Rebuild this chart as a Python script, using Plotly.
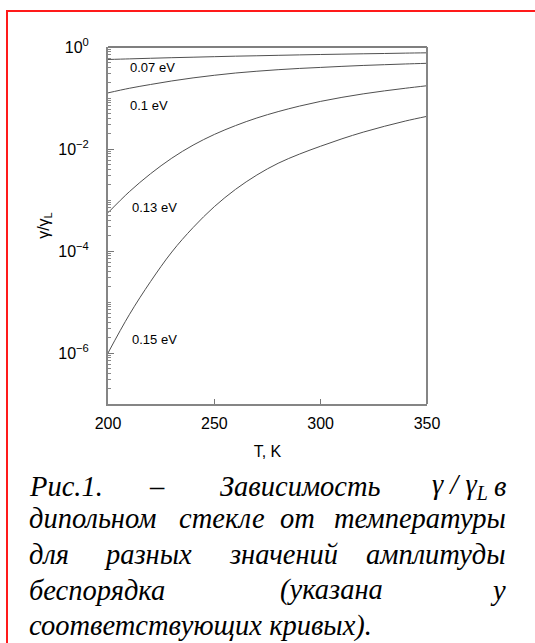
import plotly.graph_objects as go

# ---------------- data ----------------
T = [200, 210, 220, 230, 240, 250, 260, 270, 280, 290, 300, 310, 320, 330, 340, 350]

g_007 = [0.569, 0.585, 0.601, 0.617, 0.631, 0.646, 0.661, 0.673, 0.687, 0.700,
         0.713, 0.724, 0.736, 0.746, 0.759, 0.769]
g_010 = [0.126, 0.155, 0.184, 0.216, 0.248, 0.279, 0.309, 0.335, 0.359, 0.380,
         0.398, 0.417, 0.435, 0.450, 0.465, 0.479]
g_013 = [5.62e-4, 1.45e-3, 3.27e-3, 6.61e-3, 1.19e-2, 1.93e-2, 2.88e-2, 4.06e-2,
         5.41e-2, 6.93e-2, 8.59e-2, 0.103, 0.1205, 0.138, 0.1556, 0.174]
g_015 = [1.0e-6, 5.62e-6, 2.51e-5, 9.55e-5, 2.88e-4, 7.41e-4, 1.62e-3, 3.09e-3,
         5.25e-3, 7.94e-3, 1.135e-2, 1.585e-2, 2.14e-2, 2.79e-2, 3.55e-2, 4.37e-2]

series = [g_007, g_010, g_013, g_015]
curve_labels = ["0.07 eV", "0.1 eV", "0.13 eV", "0.15 eV"]

x_ticks = [200, 250, 300, 350]
x_ticktext = ["200", "250", "300", "350"]
y_ticks = [1, 1e-2, 1e-4, 1e-6]
y_ticktext = ["10<sup>0</sup>", "10<sup>\u22122</sup>", "10<sup>\u22124</sup>", "10<sup>\u22126</sup>"]

x_title = "T, K"
y_title = "\u03b3/\u03b3<sub>L</sub>"

caption_lines = [
    ["\u0420\u0438\u0441.1.", "\u2013", "\u0417\u0430\u0432\u0438\u0441\u0438\u043c\u043e\u0441\u0442\u044c", "\u03b3 / \u03b3<sub>L</sub>", "\u0432"],
    ["\u0434\u0438\u043f\u043e\u043b\u044c\u043d\u043e\u043c", "\u0441\u0442\u0435\u043a\u043b\u0435", "\u043e\u0442", "\u0442\u0435\u043c\u043f\u0435\u0440\u0430\u0442\u0443\u0440\u044b"],
    ["\u0434\u043b\u044f", "\u0440\u0430\u0437\u043d\u044b\u0445", "\u0437\u043d\u0430\u0447\u0435\u043d\u0438\u0439", "\u0430\u043c\u043f\u043b\u0438\u0442\u0443\u0434\u044b"],
    ["\u0431\u0435\u0441\u043f\u043e\u0440\u044f\u0434\u043a\u0430", "(\u0443\u043a\u0430\u0437\u0430\u043d\u0430", "\u0443"],
    ["\u0441\u043e\u043e\u0442\u0432\u0435\u0442\u0441\u0442\u0432\u0443\u044e\u0449\u0438\u0445 \u043a\u0440\u0438\u0432\u044b\u0445)."],
]

# ---------------- layout geometry (pixels) ----------------
W, H = 535, 643
L, R, TOP, BOT = 108, 427, 47, 404


def px(xp, yp):
    return (xp - L) / (R - L), (BOT - yp) / (BOT - TOP)


fig = go.Figure()
for ys in series:
    fig.add_trace(go.Scatter(x=T, y=ys, mode="lines", line=dict(color="#505050", width=1, shape="spline"),
                             showlegend=False, hoverinfo="skip"))

# curve labels (pixel positions of left edge / vertical centre)
label_pos = [(128, 67), (128, 106), (130, 208), (130, 339)]
annotations = []
for txt, (xp, yp) in zip(curve_labels, label_pos):
    xx, yy = px(xp, yp)
    annotations.append(dict(text=txt, x=xx, y=yy, xref="paper", yref="paper", xanchor="left", yanchor="middle",
                            showarrow=False, font=dict(family="Liberation Sans, Arial", size=13, color="#000")))

# caption: justified lines, word positions (x px, anchor)
cap_font = dict(family="Liberation Serif, Times New Roman", size=28.5, color="#000")
word_pos = [
    [(27, "left"), (157, "center"), (218, "left"), (430, "left"), (508, "right")],
    [(27, "left"), (177, "left"), (278, "left"), (508, "right")],
    [(27, "left"), (102, "left"), (227, "left"), (508, "right")],
    [(27, "left"), (278, "left"), (508, "right")],
    [(27, "left")],
]
line_y = [486, 518, 554, 590, 626]
for words, poss, yl in zip(caption_lines, word_pos, line_y):
    for wtxt, (xp, anc) in zip(words, poss):
        xx, yy = px(xp, yl)
        annotations.append(dict(text="<i>" + wtxt + "</i>", x=xx, y=yy, xref="paper", yref="paper",
                                xanchor=anc, yanchor="middle", showarrow=False, font=cap_font))

shapes = []
# top frame line (black) and right frame line (gray)
shapes.append(dict(type="line", xref="paper", yref="paper", x0=0, x1=1, y0=1, y1=1,
                   line=dict(color="#000000", width=1.2)))
shapes.append(dict(type="line", xref="paper", yref="paper", x0=1, x1=1, y0=0, y1=1,
                   line=dict(color="#858585", width=2)))
# red border around the figure block
bx0, by0 = px(7, 11)
bx1, by1 = px(560, 670)
shapes.append(dict(type="rect", xref="paper", yref="paper", x0=bx0, x1=bx1, y0=by1, y1=by0,
                   line=dict(color="#ff1a1a", width=2), fillcolor="rgba(0,0,0,0)"))

fig.update_layout(
    width=W, height=H, autosize=False,
    margin=dict(l=L, r=W - R, t=TOP, b=H - BOT, pad=0),
    paper_bgcolor="white", plot_bgcolor="white",
    font=dict(family="Liberation Sans, Arial", color="#000"),
    annotations=annotations, shapes=shapes,
    xaxis=dict(range=[200, 350], tickmode="array", tickvals=x_ticks, ticktext=x_ticktext,
               ticks="inside", ticklen=5, tickcolor="#777", tickwidth=1,
               showline=True, linecolor="#858585", linewidth=2, showgrid=False, zeroline=False,
               tickfont=dict(size=16), ticklabelstandoff=4,
               title=dict(text=x_title, font=dict(size=16), standoff=15)),
    yaxis=dict(type="log", range=[-7, 0], tickmode="array", tickvals=y_ticks, ticktext=y_ticktext,
               ticks="inside", ticklen=6, tickcolor="#777", tickwidth=1,
               minor=dict(ticks="inside", ticklen=3, tickcolor="#888", dtick="D1", showgrid=False),
               showline=True, linecolor="#858585", linewidth=2, showgrid=False, zeroline=False,
               tickfont=dict(size=16), ticklabelstandoff=14,
               title=dict(text=y_title, font=dict(size=16), standoff=5)),
)

fig.write_html("out.html", config={"displayModeBar": False},
               post_script="document.body.style.margin='0px';")
